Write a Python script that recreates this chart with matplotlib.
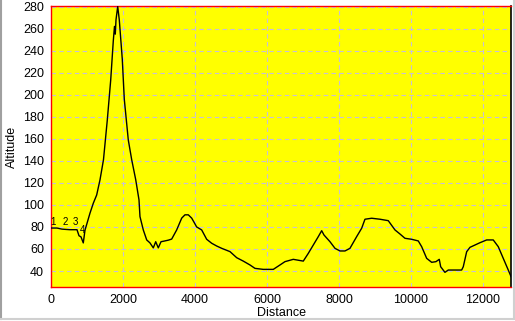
import numpy as np
import matplotlib
matplotlib.use("Agg")
import matplotlib.pyplot as plt
from matplotlib.lines import Line2D

# profil d'altitude (distance en m, altitude en m)
distance = [0, 167, 306, 528, 722, 778, 833, 897, 944, 1083, 1175, 1269, 1361,
            1458, 1564, 1658, 1731, 1764, 1786, 1806, 1853, 1897, 1981, 2036,
            2147, 2242, 2353, 2445, 2472, 2564, 2659, 2750, 2842, 2909, 2981,
            3056, 3120, 3259, 3353, 3492, 3631, 3722, 3814, 3909, 4047, 4186,
            4325, 4464, 4603, 4742, 4973, 5159, 5342, 5528, 5667, 5898, 6176,
            6362, 6500, 6731, 7009, 7148, 7287, 7426, 7520, 7584, 7751, 7890,
            8028, 8167, 8306, 8492, 8631, 8723, 8909, 9140, 9370, 9556, 9695,
            9834, 10020, 10204, 10298, 10437, 10576, 10695, 10787, 10826,
            10945, 11037, 11409, 11454, 11548, 11640, 11779, 11918, 12104,
            12287, 12426, 12565, 12704, 12780]
altitude = [79, 79, 78, 77.5, 77.5, 72, 71, 65.5, 77, 92.5, 101.5, 109, 122.7,
            141, 177, 213, 249, 262, 255, 268, 280, 268, 232, 196,
            159, 141, 123, 104.5, 89.4, 77.3, 68.2, 65.5, 61, 66.6, 61,
            66.6, 67, 68, 69, 77.3, 88, 91, 91, 88, 80, 77.3,
            68.8, 65.2, 62.7, 60.6, 57.6, 52.1, 49, 45.5, 42.4, 41.5, 41.5,
            45.5, 48.5, 50.6, 49, 56, 63.6, 71.2, 76.6, 72.7, 66.6, 60.6,
            58.2, 58.2, 60.6, 71.2, 78.8, 87, 87.9, 87, 85.7, 77.3, 73.6,
            69.7, 68.8, 67.3, 62.1, 51.5, 47.9, 48.5, 50.6, 43.9,
            38.8, 40.9, 40.9, 43.9, 57.5, 61.5, 63.6, 65.7, 68.2,
            68.2, 62.1, 51.5, 40.9, 35]

# points de passage
wp_labels = ["1", "2", "3", "4"]
wp_dist = [64, 389, 667, 870]
wp_alt = [84.8, 84.8, 84.8, 77.5]

xticks = [0, 2000, 4000, 6000, 8000, 10000, 12000]
yticks = [40, 60, 80, 100, 120, 140, 160, 180, 200, 220, 240, 260, 280]

plt.rcParams['font.family'] = ['Liberation Sans', 'DejaVu Sans']

fig = plt.figure(figsize=(5.15, 3.21), dpi=100)
fig.patch.set_facecolor('white')
ax = fig.add_axes([51/515, 1-287/321, 460/515, 281/321])
ax.set_facecolor('#ffff00')

ax.plot(distance, altitude, color='black', lw=1.0, zorder=3)
for lab, d, a in zip(wp_labels, wp_dist, wp_alt):
    ax.text(d, a, lab, fontsize=7, ha='center', va='center', zorder=4)

ax.set_xlim(0, 12780)
ax.set_ylim(25.5, 280.5)
ax.set_xticks(xticks)
ax.set_yticks(yticks)
ax.tick_params(length=0, labelsize=9, pad=5)
ax.grid(True, color='#c8c0d8', linestyle=(0, (4, 3)), lw=0.8)
ax.set_axisbelow(True)

for s in ['left', 'bottom', 'top']:
    ax.spines[s].set_color('#ff0000')
    ax.spines[s].set_linewidth(1.0)
ax.spines['right'].set_color('black')
ax.spines['right'].set_linewidth(1.2)

ax.set_xlabel('Distance', fontsize=9, labelpad=1)
ax.set_ylabel('Altitude', fontsize=9, labelpad=4)

# cadre gris autour de la figure
fig.add_artist(Line2D([0.5/515, 0.5/515], [2/321, 1], color='#a0a0a0', lw=1.5))
fig.add_artist(Line2D([0, 514/515], [2.5/321, 2.5/321], color='#d0d0d0', lw=1.5))
fig.add_artist(Line2D([513.5/515, 513.5/515], [2/321, 1], color='#d0d0d0', lw=1.5))

fig.savefig('out.png', dpi=100)
